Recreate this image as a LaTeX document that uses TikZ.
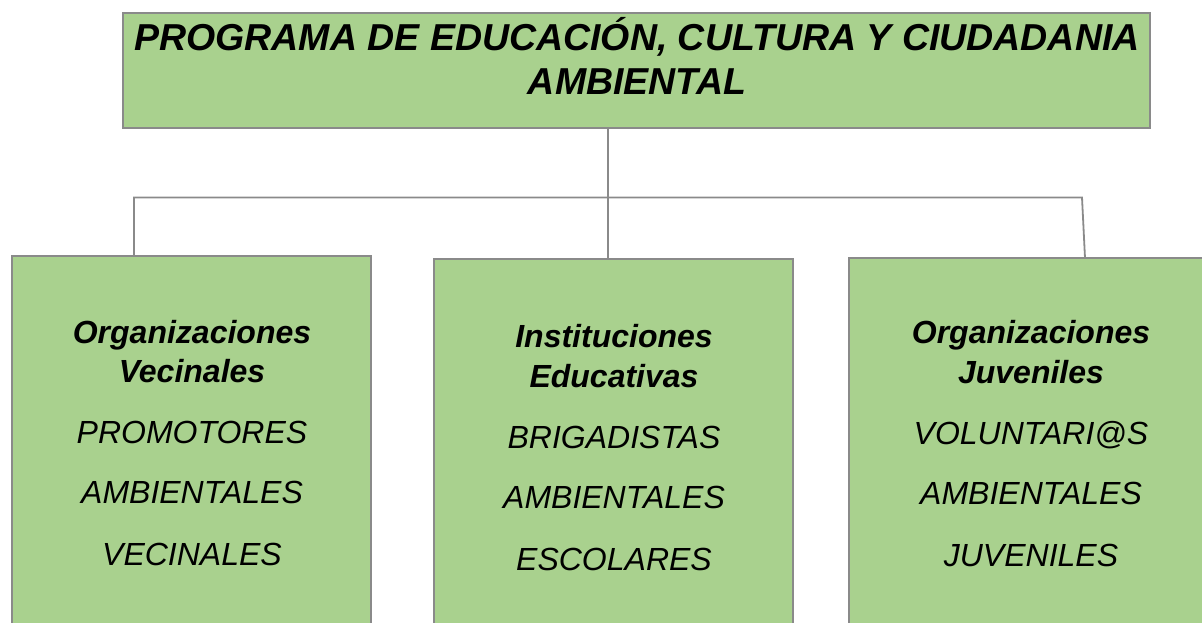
\documentclass[tikz,border=0pt]{standalone}
\usepackage{fontspec}
\setmainfont{Liberation Sans}
\definecolor{boxgreen}{HTML}{A9D18E}
\definecolor{linegray}{HTML}{8A8A8A}
\begin{document}
\begin{tikzpicture}[x=1pt,y=-1pt,
  box/.style={draw=linegray,line width=1.8pt,fill=boxgreen,rectangle,inner sep=0pt},
  conn/.style={draw=linegray,line width=1.8pt},
  ttl/.style={anchor=base,inner sep=0pt,font=\fontsize{37.5}{44}\selectfont\bfseries\itshape},
  hd/.style={anchor=base,inner sep=0pt,font=\fontsize{32}{38}\selectfont\bfseries\itshape},
  it/.style={anchor=base,inner sep=0pt,font=\fontsize{32}{38}\selectfont\itshape}]
\useasboundingbox (0,0) rectangle (1202,622);
\clip (0,0) rectangle (1202,622);
% boxes
\node[box,minimum width=1027pt,minimum height=115pt] (top) at (636.5,70.5) {};
\node[box,minimum width=359pt,minimum height=444pt] (left) at (191.5,478) {};
\node[box,minimum width=359pt,minimum height=444pt] (mid) at (613.5,481) {};
\node[box,minimum width=364pt,minimum height=444pt] (right) at (1031,480) {};
% title
\node[ttl] (t1) at (637,50) {PROGRAMA DE EDUCACIÓN, CULTURA Y CIUDADANIA};
\node[ttl] (t2) at (637,94) {AMBIENTAL};
% left text
\node[hd] (l1) at (192,343) {Organizaciones};
\node[hd] (l2) at (192,382) {Vecinales};
\node[it] (l3) at (192,443) {PROMOTORES};
\node[it] (l4) at (192,503) {AMBIENTALES};
\node[it] (l5) at (192,565) {VECINALES};
% middle text
\node[hd] (m1) at (614,347) {Instituciones};
\node[hd] (m2) at (614,387) {Educativas};
\node[it] (m3) at (614,448) {BRIGADISTAS};
\node[it] (m4) at (614,508) {AMBIENTALES};
\node[it] (m5) at (614,570) {ESCOLARES};
% right text
\node[hd] (r1) at (1031,343) {Organizaciones};
\node[hd] (r2) at (1031,383) {Juveniles};
\node[it] (r3) at (1031,444) {VOLUNTARI@S};
\node[it] (r4) at (1031,504) {AMBIENTALES};
\node[it] (r5) at (1031,566) {JUVENILES};
% connectors
\coordinate (tj) at (608,128);
\coordinate (hub) at (608,197.5);
\coordinate (busL) at (134,197.5);
\coordinate (busR) at (1082,197.5);
\coordinate (ltop) at (134,256);
\coordinate (mtop) at (608,259);
\coordinate (rtop) at (1085,258);
\draw[conn] (tj) -- (hub);
\draw[conn] (ltop) -- (busL) -- (busR) -- (rtop);
\draw[conn] (hub) -- (mtop);
\end{tikzpicture}
\end{document}
